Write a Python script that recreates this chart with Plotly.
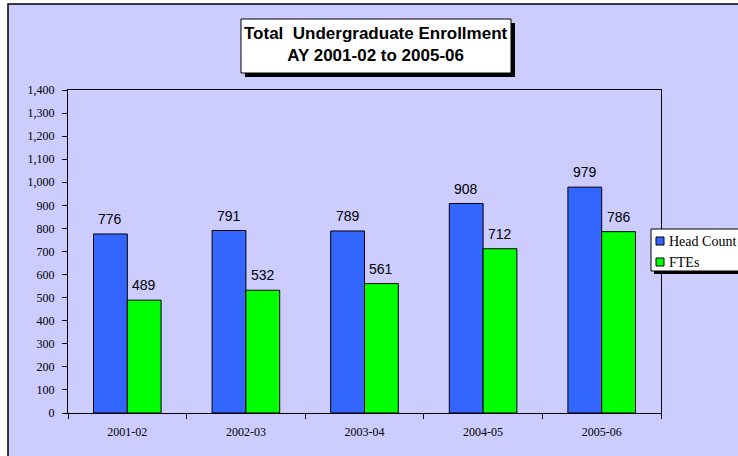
import plotly.graph_objects as go

categories = ["2001-02", "2002-03", "2003-04", "2004-05", "2005-06"]
head_count = [776, 791, 789, 908, 979]
ftes = [489, 532, 561, 712, 786]
y_ticks = list(range(0, 1401, 100))
series_names = ["Head Count", "FTEs"]
series_colors = ["#3366FF", "#00FF00"]

W, H = 738, 456
L, R, T, B = 68, 661, 90, 413
BARGAP = 0.43

def px(x):
    return (x - L) / (R - L)

def py(y):
    return (B - y) / (B - T)

fig = go.Figure()
all_vals = [head_count, ftes]
for name, vals, col in zip(series_names, all_vals, series_colors):
    fig.add_trace(go.Bar(
        x=categories, y=vals, name=name,
        marker=dict(color=col, line=dict(color="black", width=1)),
        cliponaxis=False, hoverinfo="x+y+name",
    ))

shapes = [
    dict(type="rect", xref="paper", yref="paper", layer="below",
         x0=px(8), x1=px(760), y0=py(4), y1=py(480),
         line=dict(color="black", width=1.5), fillcolor="#CCCCFF"),
    dict(type="rect", xref="paper", yref="paper",
         x0=px(245), x1=px(515), y0=py(23), y1=py(77),
         line=dict(width=0), fillcolor="black"),
    dict(type="rect", xref="paper", yref="paper",
         x0=px(241), x1=px(511), y0=py(19), y1=py(73),
         line=dict(color="black", width=1), fillcolor="white"),
    dict(type="rect", xref="paper", yref="paper",
         x0=px(654), x1=px(760), y0=py(232), y1=py(274),
         line=dict(width=0), fillcolor="black"),
    dict(type="rect", xref="paper", yref="paper",
         x0=px(651), x1=px(757), y0=py(229), y1=py(271),
         line=dict(color="black", width=1), fillcolor="white"),
]
annotations = [dict(
    xref="paper", yref="paper", x=px(376), y=py(45),
    xanchor="center", yanchor="middle", showarrow=False,
    text="<b>Total  Undergraduate Enrollment<br>AY 2001-02 to 2005-06</b>",
    font=dict(family="Liberation Sans, Arial", size=17, color="black"),
)]
half = (1 - BARGAP) / 2
for k, vals in enumerate(all_vals):
    off = (k - 0.5) * half
    for i, v in enumerate(vals):
        annotations.append(dict(
            xref="x", yref="y", x=i + off, y=v, xanchor="center", yanchor="bottom",
            yshift=5, showarrow=False, text=str(v),
            font=dict(family="Liberation Sans, Arial", size=14, color="black"),
        ))
for i, (name, col) in enumerate(zip(series_names, series_colors)):
    yc = 241 + i * 21
    shapes.append(dict(type="rect", xref="paper", yref="paper",
                       x0=px(656), x1=px(664), y0=py(yc - 4), y1=py(yc + 4),
                       line=dict(color="black", width=1), fillcolor=col))
    annotations.append(dict(
        xref="paper", yref="paper", x=px(667), y=py(yc),
        xanchor="left", yanchor="middle", showarrow=False, text=name,
        font=dict(family="Liberation Serif, Times New Roman", size=14, color="black"),
    ))

fig.update_layout(
    width=W, height=H,
    margin=dict(l=L, r=W - R, t=T, b=H - B),
    paper_bgcolor="white",
    plot_bgcolor="white",
    barmode="group",
    bargap=BARGAP,
    bargroupgap=0,
    showlegend=False,
    shapes=shapes,
    annotations=annotations,
    xaxis=dict(
        type="category", automargin=False,
        showline=True, linecolor="black", linewidth=1, mirror=True,
        ticks="outside", tickson="boundaries", ticklen=5, tickcolor="black",
        ticklabelstandoff=8,
        tickfont=dict(family="Liberation Serif, Times New Roman", size=12, color="black"),
        showgrid=False,
    ),
    yaxis=dict(
        range=[0, 1400], tickvals=y_ticks, tickformat=",d", automargin=False,
        showline=True, linecolor="black", linewidth=1, mirror=True,
        ticks="outside", ticklen=5, tickcolor="black",
        ticklabelstandoff=5,
        tickfont=dict(family="Liberation Serif, Times New Roman", size=12, color="black"),
        showgrid=False, zeroline=False,
    ),
)

fig.write_html("out.html", config={"displayModeBar": False},
               post_script="document.body.style.margin='0';document.body.style.overflow='hidden';")
